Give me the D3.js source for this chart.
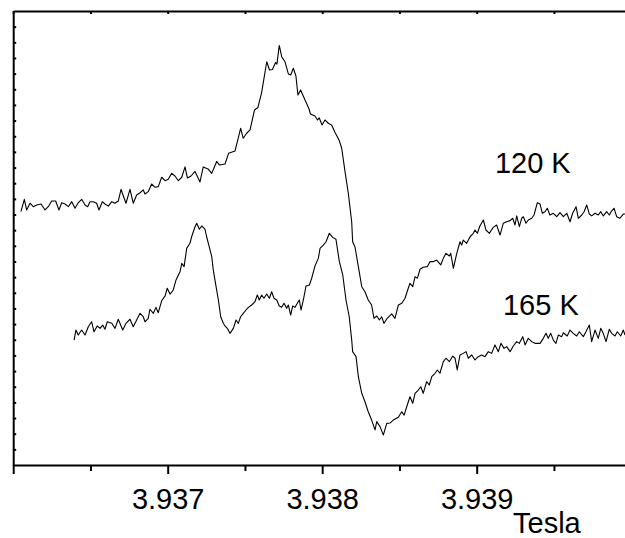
<!DOCTYPE html>
<html lang="en">
<head>
    <meta charset="UTF-8">
    <title>EPR spectra 120 K / 165 K</title>
    <script src="https://d3js.org/d3.v7.min.js"></script>
    <style>
        body {
            margin: 0;
            background: #fff;
        }
        svg {
            display: block;
            font-family: "Liberation Sans", Arial, Helvetica, sans-serif;
        }
        .trace {
            fill: none;
            stroke: #000;
            stroke-width: 1.1;
            stroke-linejoin: round;
        }
        .axis path, .axis line {
            stroke: #000;
            stroke-width: 2;
        }
        .axis text, .label {
            font-size: 29px;
            fill: #000;
        }
    </style>
</head>
<body>
    <div id="chart"></div>

    <script>
        // tick values (Tesla)
        const majorTicks = [3.936, 3.937, 3.938, 3.939];
        const minorTicks = [3.9365, 3.9375, 3.9385, 3.9395];
        const labeledTicks = [3.937, 3.938, 3.939];
        // unlabeled intensity ticks (arb. units)
        const intensityTicks = [1, 2, 3, 4, 5, 6, 7, 8, 9, 10, 11, 12, 13, 14, 15, 16, 17, 18, 19, 20, 21, 22, 23, 24, 25, 26, 27, 28];

        // [field (T), signal (arb. units)]
        const trace120 = [
            [3.936050,16.18],[3.936072,16.97],[3.936087,16.29],[3.936109,16.72],[3.936130,16.50],[3.936152,16.61],[3.936180,16.67],[3.936206,16.29],[3.936227,16.50],[3.936249,16.86],
            [3.936275,16.86],[3.936296,16.29],[3.936314,16.75],[3.936335,16.67],[3.936357,16.50],[3.936379,16.82],[3.936400,16.40],[3.936421,16.75],[3.936443,16.97],[3.936465,16.61],
            [3.936482,16.50],[3.936497,16.82],[3.936518,16.82],[3.936540,16.72],[3.936555,16.29],[3.936577,16.82],[3.936594,16.67],[3.936616,16.54],[3.936638,16.82],[3.936659,16.72],
            [3.936680,16.86],[3.936698,17.61],[3.936713,17.18],[3.936730,16.72],[3.936756,17.61],[3.936777,16.72],[3.936799,17.25],[3.936821,17.39],[3.936842,17.57],[3.936853,17.31],
            [3.936874,17.46],[3.936896,17.95],[3.936918,17.74],[3.936939,17.78],[3.936961,18.38],[3.936983,18.16],[3.937004,18.25],[3.937026,18.63],[3.937047,18.46],[3.937069,18.16],
            [3.937091,18.38],[3.937112,19.04],[3.937128,18.33],[3.937151,18.46],[3.937177,18.75],[3.937209,18.08],[3.937230,19.04],[3.937261,18.91],[3.937285,18.63],[3.937317,19.39],
            [3.937335,19.16],[3.937371,19.23],[3.937394,19.91],[3.937436,20.06],[3.937472,21.51],[3.937489,20.87],[3.937511,21.19],[3.937533,21.40],[3.937562,22.68],[3.937584,22.84],
            [3.937608,23.79],[3.937641,25.76],[3.937659,25.23],[3.937678,25.26],[3.937698,25.71],[3.937707,25.61],[3.937722,26.80],[3.937738,26.08],[3.937759,25.76],[3.937781,24.98],
            [3.937796,24.91],[3.937813,25.34],[3.937830,24.85],[3.937843,23.63],[3.937860,23.95],[3.937889,23.32],[3.937915,22.74],[3.937924,22.42],[3.937953,22.29],[3.937970,22.04],
            [3.937981,22.17],[3.937999,21.72],[3.938018,22.04],[3.938039,21.83],[3.938061,21.72],[3.938083,21.24],[3.938109,20.76],[3.938126,20.25],[3.938148,18.72],[3.938169,17.36],
            [3.938191,15.52],[3.938197,14.26],[3.938212,13.94],[3.938234,12.67],[3.938256,11.39],[3.938277,11.07],[3.938298,10.54],[3.938320,10.22],[3.938335,9.37],[3.938353,9.52],
            [3.938370,9.26],[3.938385,9.47],[3.938400,9.05],[3.938421,9.37],[3.938450,9.65],[3.938471,9.37],[3.938493,10.22],[3.938515,10.33],[3.938536,10.65],[3.938557,11.29],
            [3.938568,11.61],[3.938586,11.39],[3.938601,12.03],[3.938616,11.93],[3.938633,12.50],[3.938654,12.63],[3.938680,12.67],[3.938698,12.99],[3.938719,12.99],[3.938741,13.09],
            [3.938767,12.78],[3.938784,13.20],[3.938801,13.52],[3.938823,13.35],[3.938832,13.52],[3.938849,12.56],[3.938871,13.52],[3.938892,14.26],[3.938903,14.05],[3.938913,14.37],
            [3.938935,14.16],[3.938957,14.58],[3.938978,14.80],[3.938989,15.01],[3.939004,14.80],[3.939021,15.27],[3.939043,15.65],[3.939060,15.01],[3.939082,14.80],[3.939107,15.18],
            [3.939129,15.33],[3.939151,14.69],[3.939172,15.44],[3.939194,15.54],[3.939216,15.61],[3.939233,15.76],[3.939248,15.33],[3.939259,15.91],[3.939276,15.22],[3.939291,15.76],
            [3.939302,15.86],[3.939319,15.44],[3.939334,15.65],[3.939356,15.76],[3.939371,15.97],[3.939392,16.75],[3.939410,16.67],[3.939425,16.08],[3.939442,16.18],[3.939457,16.40],
            [3.939474,15.97],[3.939496,16.08],[3.939518,15.86],[3.939539,16.12],[3.939561,15.86],[3.939583,16.08],[3.939604,15.54],[3.939621,16.08],[3.939643,16.50],[3.939658,15.76],
            [3.939680,15.97],[3.939695,16.18],[3.939712,16.61],[3.939729,16.03],[3.939744,15.91],[3.939766,16.08],[3.939787,15.97],[3.939803,16.18],[3.939819,15.91],[3.939841,16.18],
            [3.939858,15.97],[3.939874,16.24],[3.939889,16.40],[3.939906,15.86],[3.939927,15.76],[3.939949,16.03],[3.939960,16.03]
        ];

        const trace165 = [
            [3.936394,7.98],[3.936406,8.62],[3.936421,8.30],[3.936443,8.62],[3.936465,8.30],[3.936486,8.83],[3.936508,9.15],[3.936523,8.51],[3.936544,8.88],[3.936562,8.73],
            [3.936579,8.94],[3.936594,8.67],[3.936609,9.15],[3.936638,9.05],[3.936659,8.73],[3.936680,9.31],[3.936709,8.62],[3.936730,9.05],[3.936756,9.31],[3.936777,8.83],
            [3.936799,9.26],[3.936821,9.69],[3.936842,9.47],[3.936853,9.15],[3.936874,9.37],[3.936885,9.95],[3.936907,9.69],[3.936924,10.07],[3.936939,9.73],[3.936961,10.49],
            [3.936983,10.80],[3.936997,11.29],[3.937015,10.92],[3.937036,11.18],[3.937054,11.82],[3.937069,12.14],[3.937080,12.35],[3.937091,12.88],[3.937106,12.67],[3.937123,13.84],
            [3.937144,14.16],[3.937155,14.58],[3.937177,15.22],[3.937188,15.44],[3.937205,15.06],[3.937220,15.27],[3.937241,15.06],[3.937252,14.58],[3.937269,13.94],[3.937285,13.31],
            [3.937295,12.46],[3.937313,11.39],[3.937328,10.54],[3.937343,9.47],[3.937360,9.05],[3.937371,8.88],[3.937386,8.73],[3.937403,8.41],[3.937425,8.73],[3.937442,9.26],
            [3.937457,9.05],[3.937472,9.47],[3.937489,9.69],[3.937507,9.90],[3.937522,10.07],[3.937544,10.22],[3.937565,10.43],[3.937580,10.86],[3.937593,10.54],[3.937608,10.86],
            [3.937623,10.65],[3.937641,10.92],[3.937658,10.65],[3.937673,11.07],[3.937688,10.65],[3.937706,10.54],[3.937722,10.16],[3.937738,10.07],[3.937753,10.33],[3.937770,10.01],
            [3.937781,10.22],[3.937796,9.58],[3.937809,10.16],[3.937824,10.07],[3.937839,10.33],[3.937852,10.54],[3.937863,9.90],[3.937878,10.54],[3.937895,11.43],[3.937917,11.50],
            [3.937932,11.93],[3.937953,12.71],[3.937975,13.20],[3.937986,13.84],[3.938007,14.05],[3.938025,14.26],[3.938046,14.80],[3.938068,14.54],[3.938089,14.42],[3.938111,12.99],
            [3.938133,12.14],[3.938154,10.54],[3.938175,9.47],[3.938191,7.98],[3.938197,7.24],[3.938219,6.92],[3.938234,5.64],[3.938256,4.58],[3.938277,4.04],[3.938298,3.40],
            [3.938320,2.87],[3.938342,2.24],[3.938353,2.77],[3.938374,2.45],[3.938396,1.92],[3.938418,2.66],[3.938439,2.68],[3.938460,2.87],[3.938493,3.05],[3.938515,3.40],
            [3.938530,3.19],[3.938547,3.72],[3.938568,4.36],[3.938586,3.94],[3.938601,4.58],[3.938622,4.79],[3.938638,5.00],[3.938654,4.58],[3.938676,5.32],[3.938693,5.11],
            [3.938709,5.64],[3.938730,5.86],[3.938745,6.07],[3.938762,5.86],[3.938784,6.60],[3.938801,6.82],[3.938823,6.60],[3.938845,6.96],[3.938860,6.82],[3.938874,6.07],
            [3.938892,7.03],[3.938913,7.13],[3.938931,7.24],[3.938946,6.82],[3.938968,7.03],[3.938989,6.71],[3.939010,6.92],[3.939032,7.03],[3.939054,6.92],[3.939075,7.24],
            [3.939097,7.13],[3.939118,7.67],[3.939140,7.24],[3.939157,7.77],[3.939177,7.45],[3.939194,7.56],[3.939216,7.24],[3.939237,7.60],[3.939259,7.88],[3.939276,7.77],
            [3.939298,8.20],[3.939313,7.67],[3.939334,8.09],[3.939356,7.88],[3.939377,7.77],[3.939410,7.77],[3.939431,8.09],[3.939449,8.41],[3.939463,8.09],[3.939479,8.41],
            [3.939496,7.98],[3.939513,7.77],[3.939528,8.30],[3.939550,8.20],[3.939561,8.45],[3.939586,8.24],[3.939604,8.62],[3.939625,8.41],[3.939647,8.24],[3.939664,8.51],
            [3.939690,8.20],[3.939707,8.51],[3.939729,8.94],[3.939744,7.88],[3.939766,8.62],[3.939787,8.09],[3.939803,8.73],[3.939819,8.41],[3.939837,7.88],[3.939858,8.67],
            [3.939874,8.41],[3.939895,8.24],[3.939910,8.51],[3.939932,8.24],[3.939949,8.62],[3.939960,8.30]
        ];

        const seriesLabels = [
            { text: '120 K', field: 3.939118, signal: 18.65 },
            { text: '165 K', field: 3.939170, signal: 9.58 }
        ];

        const width = 625;
        const height = 538;

        const svg = d3.select('#chart')
            .append('svg')
            .attr('width', width)
            .attr('height', height);

        const x = d3.scaleLinear()
            .domain([3.936, 3.940])
            .range([13.2, 631.2]);

        const y = d3.scaleLinear()
            .domain([0, 29])
            .range([465, 11]);

        // top frame line with inward ticks
        svg.append('g')
            .attr('class', 'axis')
            .attr('transform', `translate(0,${y(29)})`)
            .call(d3.axisBottom(x).tickValues(majorTicks.concat(minorTicks)).tickSize(3).tickSizeOuter(0).tickFormat(''));

        // left axis, ticks pointing inward
        svg.append('g')
            .attr('class', 'axis')
            .attr('transform', `translate(${x(3.936)},0)`)
            .call(d3.axisRight(y).tickValues(intensityTicks).tickSize(3).tickSizeOuter(0).tickFormat(''));

        // bottom axis: major ticks with labels
        const bottom = svg.append('g')
            .attr('class', 'axis')
            .attr('transform', `translate(0,${y(0)})`)
            .call(d3.axisBottom(x)
                .tickValues(majorTicks)
                .tickSize(9)
                .tickSizeOuter(0)
                .tickFormat(d => labeledTicks.includes(d) ? d3.format('.3f')(d) : ''));

        bottom.selectAll('text')
            .attr('y', 44)
            .attr('dy', 0);

        // minor ticks
        svg.append('g')
            .attr('class', 'axis')
            .attr('transform', `translate(0,${y(0)})`)
            .call(d3.axisBottom(x).tickValues(minorTicks).tickSize(6).tickSizeOuter(0).tickFormat(''))
            .select('.domain').remove();

        svg.append('text')
            .attr('class', 'label')
            .attr('x', x(3.939235))
            .attr('y', y(0) + 68)
            .text('Tesla');

        const line = d3.line()
            .x(d => x(d[0]))
            .y(d => y(d[1]));

        svg.selectAll('path.trace')
            .data([trace120, trace165])
            .join('path')
            .attr('class', 'trace')
            .attr('d', line);

        svg.selectAll('text.series')
            .data(seriesLabels)
            .join('text')
            .attr('class', 'label series')
            .attr('x', d => x(d.field))
            .attr('y', d => y(d.signal))
            .text(d => d.text);
    </script>
</body>
</html>
